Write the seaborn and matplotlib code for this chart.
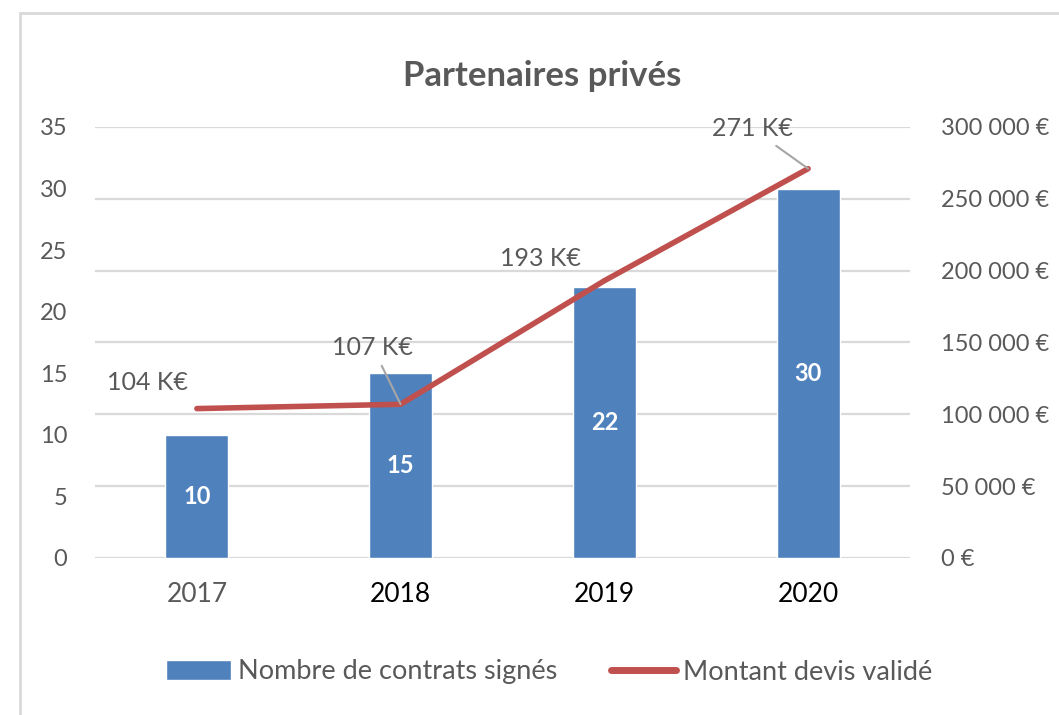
import numpy as np
import pandas as pd
import seaborn as sns
import matplotlib.pyplot as plt
from matplotlib.patches import Rectangle
from matplotlib.lines import Line2D
from matplotlib.patches import Patch
from matplotlib.ticker import FuncFormatter, MultipleLocator

# Data
years = ['2017', '2018', '2019', '2020']
contrats = [10, 15, 22, 30]
montant = [104000, 107000, 193000, 271000]
montant_labels = ['104 K€', '107 K€', '193 K€', '271 K€']

df = pd.DataFrame({'annee': years, 'contrats': contrats, 'montant': montant})
df['pos'] = np.arange(len(df))

sns.set_theme(style='white')
plt.rcParams['font.family'] = ['Lato', 'DejaVu Sans']

blue = '#4F81BD'
red = '#C0504D'
grey_txt = '#595959'

fig = plt.figure(figsize=(10.59, 7.15), dpi=100)
ax = fig.add_axes([95 / 1059, 1 - 558 / 715, 815 / 1059, 431 / 715])

# outer frame
fig.patches.append(Rectangle((20 / 1059, -0.1), 1.2, (1 - 13 / 715) + 0.1,
                             transform=fig.transFigure, fill=False,
                             edgecolor='#D9D9D9', lw=2))

sns.barplot(data=df, x='annee', y='contrats', color=blue, width=0.31,
            saturation=1, ax=ax, zorder=2)
ax.set_ylim(0, 35)
ax.set_xlim(-0.5, 3.5)
ax.yaxis.set_major_locator(MultipleLocator(5))

# values inside bars
for i, v in enumerate(contrats):
    ax.text(i, v / 2, str(v), ha='center', va='center', color='white',
            fontsize=17, fontweight='bold', zorder=5)

ax2 = ax.twinx()
sns.lineplot(data=df, x='pos', y='montant', color=red, lw=4, ax=ax2,
             solid_capstyle='round')
ax2.set_zorder(3)
ax2.patch.set_visible(False)
ax.patch.set_visible(False)
ax2.set_ylim(0, 300000)
ax2.yaxis.set_major_locator(MultipleLocator(50000))
ax2.yaxis.set_major_formatter(FuncFormatter(
    lambda v, p: f'{int(v):,}'.replace(',', ' ') + ' €'))

# gridlines drawn behind bars, following right axis
for g in np.arange(0, 300001, 50000):
    ax.axhline(g / 300000 * 35, color='#D9D9D9', lw=1.6, zorder=0)

offsets = [(-49, 26), (-28, 57), (-64, 22), (-56, 40)]
leaders = [False, True, False, True]
for i, (lab, off, ld) in enumerate(zip(montant_labels, offsets, leaders)):
    ax2.annotate(lab, xy=(i, montant[i]), xytext=off, textcoords='offset pixels',
                 ha='center', va='center', fontsize=18, color=grey_txt,
                 arrowprops=dict(arrowstyle='-', color='#A6A6A6', lw=1.5,
                                 shrinkA=3, shrinkB=0) if ld else None)

for a in (ax, ax2):
    for s in a.spines.values():
        s.set_visible(False)
    a.set_xlabel('')
    a.set_ylabel('')
    a.tick_params(length=0, labelsize=17, labelcolor=grey_txt)

ax.tick_params(axis='y', pad=20)
ax2.tick_params(axis='y', pad=22)
ax.tick_params(axis='x', pad=17, labelsize=19)
for k, t in enumerate(ax.get_xticklabels()):
    t.set_color(grey_txt if k == 0 else 'black')

fig.text(542 / 1059, 1 - 76 / 715, 'Partenaires privés', fontsize=25,
         fontweight='bold', color=grey_txt, ha='center', va='center')

handles = [Patch(facecolor=blue, label='Nombre de contrats signés'),
           Line2D([0], [0], color=red, lw=5, solid_capstyle='round',
                  label='Montant devis validé')]
fig.legend(handles=handles, loc='center', bbox_to_anchor=(549 / 1059, 1 - 672 / 715),
           ncol=2, frameon=False, fontsize=19.5, labelcolor=grey_txt,
           handlelength=2.4, handleheight=0.75, handletextpad=0.25,
           columnspacing=2.0)

fig.savefig('out.png', dpi=100)
